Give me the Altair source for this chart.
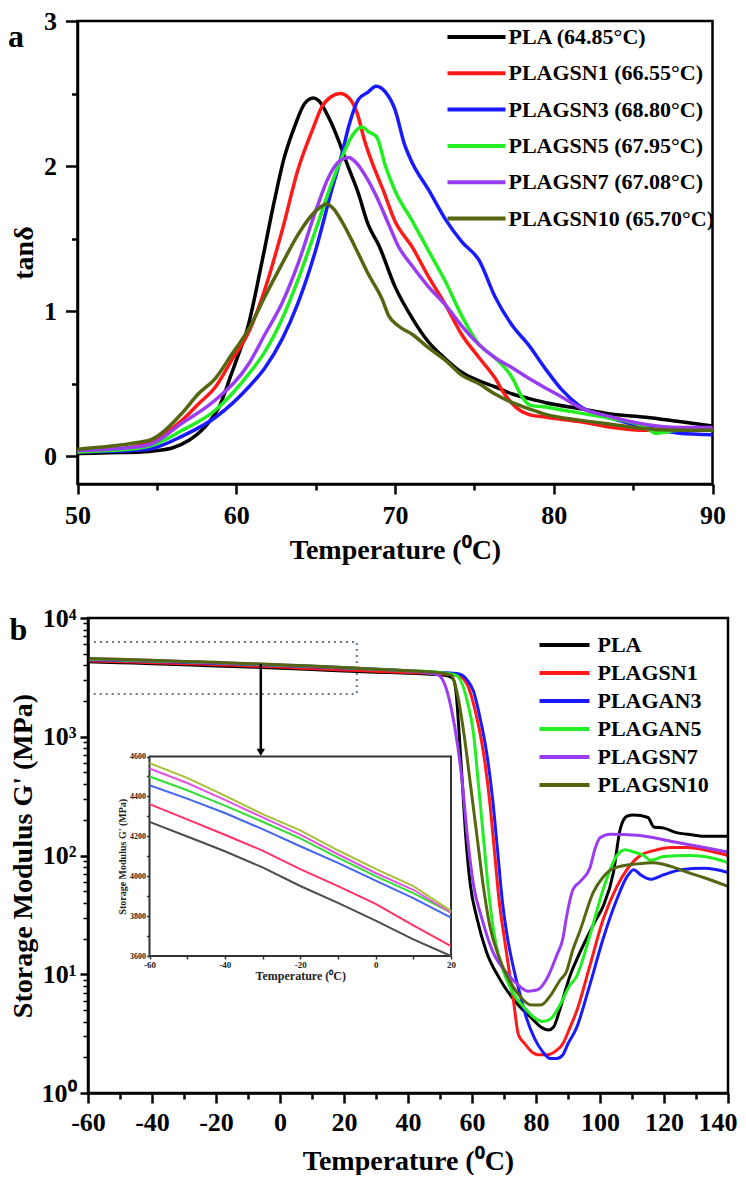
import altair as alt
import pandas as pd

FONT = "Liberation Serif"

# ---------------- Panel (a): tan delta ----------------
names_a = ["PLA (64.85°C)", "PLAGSN1 (66.55°C)", "PLAGSN3 (68.80°C)",
           "PLAGSN5 (67.95°C)", "PLAGSN7 (67.08°C)", "PLAGSN10 (65.70°C)"]
colors_main = ["#000000", "#ff1a1a", "#1a1aff", "#22ee22", "#9a3cf0", "#556611"]

pla_a_T = [50, 52, 54, 55, 56, 57, 58, 59, 59.7, 60.2, 60.7, 61.6, 62.4, 63.0, 63.7, 64.3, 64.85, 65.2,
           65.8, 66.4, 67.0, 67.7, 68.3, 69.0, 70.0, 71.1, 72.1, 73.2, 74.2, 75.3, 76.3, 77.4, 78.4, 79.5,
           81.6, 83.7, 85.8, 87.9, 90]
pla_a_v = [0.02, 0.025, 0.03, 0.04, 0.06, 0.11, 0.2, 0.36, 0.57, 0.72, 0.88, 1.33, 1.76, 2.05, 2.28, 2.43,
           2.47, 2.45, 2.34, 2.19, 2.01, 1.81, 1.6, 1.45, 1.17, 0.95, 0.79, 0.67, 0.58, 0.52, 0.48, 0.43,
           0.4, 0.37, 0.33, 0.29, 0.27, 0.24, 0.21]

gsn1_a_T = [50, 52, 54, 54.5, 56.6, 57.6, 58.7, 59.7, 60.8, 61.8, 62.9, 63.9, 64.8, 65.4, 66.0, 66.55,
            67.1, 67.6, 68.1, 68.75, 69.2, 70.0, 71.1, 72.1, 73.2, 74.2, 75.3, 76.3, 76.9, 77.6, 78.4,
            79.5, 81.6, 83.7, 85.8, 87.9, 90]
gsn1_a_v = [0.03, 0.045, 0.08, 0.1, 0.25, 0.36, 0.48, 0.66, 0.86, 1.15, 1.56, 1.98, 2.25, 2.41, 2.48, 2.5,
            2.47, 2.37, 2.17, 1.97, 1.85, 1.62, 1.44, 1.24, 1.04, 0.84, 0.68, 0.54, 0.43, 0.34, 0.29,
            0.27, 0.24, 0.2, 0.18, 0.18, 0.19]

gsn3_a_T = [50, 52, 54, 54.5, 56.6, 58.7, 60.8, 61.8, 62.9, 63.9, 65.0, 66.0, 66.65, 67.1, 67.7, 68.3,
            68.8, 69.4, 70.0, 70.6, 71.1, 72.1, 73.2, 74.2, 75.3, 76.3, 77.4, 78.4, 79.5, 80.5, 81.6,
            83.7, 85.8, 87.9, 90]
gsn3_a_v = [0.03, 0.035, 0.045, 0.05, 0.14, 0.27, 0.48, 0.61, 0.81, 1.06, 1.42, 1.83, 2.08, 2.28, 2.46,
            2.51, 2.55, 2.51, 2.39, 2.15, 2.02, 1.84, 1.63, 1.48, 1.35, 1.1, 0.9, 0.77, 0.6, 0.46, 0.35,
            0.26, 0.2, 0.16, 0.15]

gsn5_a_T = [50, 52, 54, 54.5, 56.6, 58.7, 60.8, 61.8, 62.9, 63.9, 65.0, 66.0, 66.65, 67.3, 67.95, 68.3,
            68.85, 69.4, 70.0, 71.1, 72.1, 73.2, 74.2, 75.3, 76.3, 77.4, 78.0, 78.6, 79.5, 80.5, 81.6,
            83.7, 85.8, 86.4, 87.9, 90]
gsn5_a_v = [0.03, 0.04, 0.06, 0.07, 0.18, 0.32, 0.57, 0.72, 0.95, 1.22, 1.56, 1.88, 2.06, 2.21, 2.27,
            2.24, 2.2, 2.0, 1.83, 1.62, 1.42, 1.2, 0.97, 0.77, 0.68, 0.54, 0.41, 0.35, 0.34, 0.32, 0.3,
            0.26, 0.2, 0.16, 0.18, 0.18]

gsn7_a_T = [50, 52, 54, 54.5, 56.6, 58.7, 60.8, 61.8, 62.9, 63.9, 65.0, 65.8, 66.45, 67.08, 67.5, 68.1,
            68.75, 69.6, 70.2, 71.1, 72.1, 73.2, 74.2, 75.3, 76.3, 77.4, 78.4, 79.5, 80.5, 81.6, 83.7,
            85.8, 87.9, 90]
gsn7_a_v = [0.04, 0.05, 0.07, 0.08, 0.23, 0.39, 0.64, 0.84, 1.06, 1.33, 1.69, 1.92, 2.03, 2.06, 2.03,
            1.94, 1.81, 1.6, 1.45, 1.31, 1.17, 1.04, 0.9, 0.77, 0.68, 0.61, 0.54, 0.47, 0.41, 0.34, 0.27,
            0.22, 0.2, 0.2]

gsn10_a_T = [50, 52, 54, 54.5, 56.6, 57.6, 58.7, 59.7, 60.8, 61.8, 62.9, 63.9, 65.0, 65.7, 66.1, 66.65,
             67.5, 68.3, 69.2, 69.6, 70.2, 71.1, 72.1, 73.2, 74.2, 75.3, 76.3, 77.4, 78.4, 79.5, 81.6,
             83.7, 85.8, 87.9, 90]
gsn10_a_v = [0.05, 0.07, 0.1, 0.11, 0.3, 0.43, 0.54, 0.7, 0.88, 1.1, 1.33, 1.53, 1.69, 1.74, 1.71, 1.62,
             1.44, 1.26, 1.08, 0.97, 0.9, 0.84, 0.75, 0.66, 0.56, 0.5, 0.43, 0.37, 0.33, 0.29, 0.25,
             0.22, 0.19, 0.18, 0.18]

# ---------------- Panel (b): storage modulus ----------------
names_b = ["PLA", "PLAGSN1", "PLAGAN3", "PLAGAN5", "PLAGSN7", "PLAGSN10"]
colors_inset = ["#4d4d4d", "#ff3366", "#4466ee", "#33dd33", "#e055e0", "#a8c038"]

inset_T = [-60, -50, -40, -30, -20, -10, 0, 10, 20]
pla_low = [4272, 4199, 4125, 4044, 3951, 3866, 3777, 3683, 3580]
gsn1_low = [4361, 4285, 4208, 4128, 4035, 3950, 3861, 3754, 3650]
gan3_low = [4456, 4389, 4317, 4236, 4150, 4067, 3978, 3890, 3792]
gan5_low = [4500, 4431, 4354, 4273, 4190, 4093, 4000, 3915, 3817]
gsn7_low = [4540, 4467, 4383, 4295, 4208, 4110, 4016, 3932, 3817]
gsn10_low = [4567, 4493, 4404, 4311, 4230, 4130, 4037, 3950, 3826]

pla_hi_T = [30, 40, 48, 52, 54, 55, 56, 57, 58, 59.5, 61.5, 64.5, 68.5, 73.5, 78.5, 81.5, 84, 85.5, 87.4,
            89, 90.5, 93, 95.8, 98.5, 101.1, 104.2, 106.3, 108.4, 110.5, 115, 116.8, 120, 124.2, 127.4,
            132.6, 140]
pla_hi_G = [3500, 3420, 3350, 3280, 3100, 2400, 1050, 400, 150, 56, 30, 15.5, 9.3, 5.9, 4.3, 3.6, 3.4,
            3.6, 5.0, 7.0, 9.5, 13.8, 20, 28, 38, 72, 166, 214, 219, 209, 174, 170, 155, 151, 145, 145]

gsn1_hi_T = [30, 40, 50, 55.5, 58.5, 61.5, 63.5, 65.5, 67, 68.5, 70, 71.5, 73, 74.5, 76.5, 78.5, 80.5,
             83.5, 86.5, 88.4, 90.5, 92.6, 96.8, 101, 105.3, 108.4, 112.6, 116.8, 122.1, 127.4, 132.6, 140]
gsn1_hi_G = [3560, 3480, 3400, 3300, 2750, 1450, 760, 290, 110, 41, 21, 11.2, 5.9, 3.1, 2.6, 2.24, 2.1,
             2.1, 2.3, 2.6, 3.5, 4.8, 11.7, 29, 55, 76, 100, 110, 117, 117, 112, 100]

gan3_hi_T = [30, 40, 50, 56, 58.5, 60.5, 62.5, 64.5, 66.5, 68, 69.5, 71, 73, 75, 77, 79.5, 82, 84.5, 86.5,
             88.4, 90, 92.6, 96.8, 101, 105.3, 108.4, 110.5, 112.6, 115.8, 120, 125.3, 132.6, 140]
gan3_hi_G = [3700, 3600, 3480, 3380, 3000, 2400, 1450, 760, 290, 110, 41, 21, 11.2, 6.8, 4.3, 2.9, 2.24,
             1.95, 1.95, 2.1, 2.6, 3.5, 8.1, 20, 43, 66, 76, 69, 63, 69, 76, 78, 72]

gan5_hi_T = [30, 40, 50, 55, 58.5, 60.5, 62, 63.5, 65, 67, 69.5, 72.5, 76.5, 79.5, 82, 84.5, 87.5, 90.5,
             92.6, 96.8, 101, 105.3, 107.9, 110.5, 113.7, 115.8, 120, 127.4, 132.6, 140]
gan5_hi_G = [3710, 3600, 3470, 3300, 2000, 1050, 400, 150, 56, 21, 11.2, 7.2, 5.2, 4.3, 4.0, 4.2, 5.5, 8.0,
             9.5, 21, 52, 100, 112, 107, 100, 91, 98, 100, 98, 87]

gsn7_hi_T = [30, 40, 46, 49.5, 51.5, 53.5, 55.5, 57, 58.5, 60.5, 63, 66.5, 70.5, 74.5, 77.5, 80.5, 83.5,
             86.5, 88.4, 89.5, 91.6, 93.7, 96.8, 98.5, 100, 103.2, 111.6, 122.1, 132.6, 140]
gsn7_hi_G = [3700, 3580, 3450, 3300, 2750, 1740, 850, 400, 150, 56, 30, 15.5, 10.5, 8.1, 7.2, 7.4, 9.3,
             14.5, 20, 30, 52, 60, 78, 115, 141, 151, 148, 132, 117, 107]

gsn10_hi_T = [30, 40, 50, 53.5, 55.5, 57.5, 59.5, 61.5, 63.5, 65.5, 68.5, 72.5, 75.5, 78.5, 81.5, 84.5,
              87.5, 89.5, 91.5, 93.7, 97.9, 101, 104.2, 111.6, 116.8, 122.1, 127.4, 132.6, 140]
gsn10_hi_G = [3710, 3590, 3450, 3300, 2240, 1050, 400, 150, 56, 26, 13.8, 8.1, 6.3, 5.5, 5.5, 6.6, 8.9,
              10.5, 16, 23, 49, 66, 78, 85, 87, 81, 72, 65, 55]

# zoom box and arrow (data coordinates of panel b)
box_x = [-60, 24]
box_y = [2290, 6290]
arrow_x = [-6]
arrow_y = [4100, 737]


def long_df(names, Ts, Vs):
    rows = []
    for n, ts, vs in zip(names, Ts, Vs):
        for t, v in zip(ts, vs):
            rows.append({"name": n, "T": t, "v": v})
    return pd.DataFrame(rows)


df_a = long_df(names_a,
               [pla_a_T, gsn1_a_T, gsn3_a_T, gsn5_a_T, gsn7_a_T, gsn10_a_T],
               [pla_a_v, gsn1_a_v, gsn3_a_v, gsn5_a_v, gsn7_a_v, gsn10_a_v])

lows = [pla_low, gsn1_low, gan3_low, gan5_low, gsn7_low, gsn10_low]
hiTs = [pla_hi_T, gsn1_hi_T, gan3_hi_T, gan5_hi_T, gsn7_hi_T, gsn10_hi_T]
hiGs = [pla_hi_G, gsn1_hi_G, gan3_hi_G, gan5_hi_G, gsn7_hi_G, gsn10_hi_G]
df_b = long_df(names_b, [inset_T + t for t in hiTs], [l + g for l, g in zip(lows, hiGs)])
df_i = long_df(names_b, [inset_T] * 6, lows)

lab = dict(labelFont=FONT, labelFontWeight="bold", labelColor="black",
           titleFont=FONT, titleFontWeight="bold", titleColor="black",
           tickColor="black", domainColor="black", grid=False, labelFlush=False)

# ---------------- build panel a ----------------
# panel a's plot area sits 10.5 px left of panel b's, so its x range starts left of the group origin
SHIFT_A = 10.5
W_A, H_A = 635, 463
xa_scale = alt.Scale(domain=[50, 90], range=[-SHIFT_A, W_A - SHIFT_A], nice=False, zero=False)
ya_scale = alt.Scale(domain=[-0.19, 3.0], nice=False, zero=False)

frame_a = alt.Chart(pd.DataFrame({"x1": [50], "x2": [90], "y1": [-0.19], "y2": [3.0]})).mark_rect(
    fill=None, stroke="black", strokeWidth=2.5).encode(
    x=alt.X("x1:Q", scale=xa_scale, axis=None), x2="x2:Q",
    y=alt.Y("y1:Q", scale=ya_scale, axis=None), y2="y2:Q")

lines_a = alt.Chart(df_a).mark_line(strokeWidth=3.5, interpolate="monotone").encode(
    x=alt.X("T:Q", scale=xa_scale,
            axis=alt.Axis(orient="bottom", values=[50, 60, 70, 80, 90], tickSize=10, tickWidth=2.5,
                          domainWidth=2.5, labelFontSize=26, labelPadding=8,
                          title="Temperature (⁰C)", titleFontSize=28, titlePadding=8, **lab)),
    y=alt.Y("v:Q", scale=ya_scale,
            axis=alt.Axis(orient="left", offset=SHIFT_A, values=[0, 1, 2, 3], tickSize=12, tickWidth=2.5,
                          domainWidth=2.5, labelFontSize=26, labelPadding=9,
                          title="tanδ", titleFontSize=28, titlePadding=5, **lab)),
    color=alt.Color("name:N", scale=alt.Scale(domain=names_a, range=colors_main),
                    legend=alt.Legend(orient="none", legendX=357.5, legendY=4, title=None,
                                      symbolType="stroke", symbolSize=3364, symbolStrokeWidth=4,
                                      labelFont=FONT, labelFontSize=22, labelFontWeight="bold",
                                      labelColor="black", labelLimit=400, clipHeight=24,
                                      rowPadding=12.3, labelOffset=1, padding=0)),
)

minor_a = alt.Chart(df_a).mark_point(opacity=0).encode(
    x=alt.X("T:Q", scale=xa_scale,
            axis=alt.Axis(orient="bottom", values=[55, 65, 75, 85], labels=False, tickSize=6,
                          tickWidth=2.5, domain=False, title=None, tickColor="black", grid=False)),
    y=alt.Y("v:Q", scale=ya_scale,
            axis=alt.Axis(orient="left", offset=SHIFT_A, values=[0.5, 1.5, 2.5], labels=False, tickSize=6,
                          tickWidth=2.5, domain=False, title=None, tickColor="black", grid=False)),
)

label_a = alt.Chart(pd.DataFrame({"t": ["a"]})).mark_text(
    font=FONT, fontSize=32, fontWeight="bold", color="black").encode(
    text="t:N", x=alt.value(-72), y=alt.value(16))

top = alt.layer(frame_a, lines_a, minor_a, label_a).resolve_axis(
    x="independent", y="independent").properties(width=W_A - SHIFT_A, height=H_A)

# ---------------- build panel b ----------------
W_B, H_B = 640, 475
xb_scale = alt.Scale(domain=[-60, 140], nice=False, zero=False)
yb_scale = alt.Scale(type="log", domain=[1, 10000], nice=False)
xi_scale = alt.Scale(domain=[-60, 20], range=[61.5, 363], nice=False, zero=False)
yi_scale = alt.Scale(domain=[3600, 4600], range=[338, 138.5], nice=False, zero=False, clamp=True)

frame_b = alt.Chart(pd.DataFrame({"x1": [-60], "x2": [140], "y1": [1], "y2": [10000]})).mark_rect(
    fill=None, stroke="black", strokeWidth=2.5).encode(
    x=alt.X("x1:Q", scale=xb_scale, axis=None), x2="x2:Q",
    y=alt.Y("y1:Q", scale=yb_scale, axis=None), y2="y2:Q")

box = alt.Chart(pd.DataFrame({"x1": [box_x[0]], "x2": [box_x[1]], "y1": [box_y[0]], "y2": [box_y[1]]})).mark_rect(
    fill=None, stroke="#6a7a88", strokeWidth=2, strokeDash=[2, 4]).encode(
    x=alt.X("x1:Q", scale=xb_scale, axis=None), x2="x2:Q",
    y=alt.Y("y1:Q", scale=yb_scale, axis=None), y2="y2:Q")

lines_b = alt.Chart(df_b).mark_line(strokeWidth=3, interpolate="monotone").encode(
    x=alt.X("T:Q", scale=xb_scale,
            axis=alt.Axis(orient="bottom", values=list(range(-60, 141, 20)), labelExpr="'' + datum.value",
                          labelAlign={"condition": {"test": "datum.value == 140", "value": "right"}, "value": "center"},
                          labelOffset={"condition": {"test": "datum.value == 140", "value": 9}, "value": 0},
                          tickSize=10, tickWidth=2.5, domainWidth=2.5, labelFontSize=26, labelPadding=6,
                          title="Temperature (⁰C)", titleFontSize=28, titlePadding=12, **lab)),
    y=alt.Y("v:Q", scale=yb_scale,
            axis=alt.Axis(orient="left", values=[1, 10, 100, 1000, 10000],
                          labelExpr="'10' + ['⁰','¹','²','³','⁴'][round(log(datum.value)/LN10)]",
                          tickSize=8, tickWidth=2.5, domainWidth=2.5, labelFontSize=26, labelPadding=4,
                          title="Storage Modulus  G' (MPa)", titleFontSize=28, titlePadding=4, **lab)),
    color=alt.Color("name:N", scale=alt.Scale(domain=names_b, range=colors_main),
                    legend=alt.Legend(orient="none", legendX=449.5, legendY=15, title=None,
                                      symbolType="stroke", symbolSize=2500, symbolStrokeWidth=4,
                                      labelFont=FONT, labelFontSize=22, labelFontWeight="bold",
                                      labelColor="black", labelLimit=400, clipHeight=24,
                                      rowPadding=4, labelOffset=6, padding=0)),
)

minor_log = [m * d for d in [1, 10, 100, 1000] for m in range(2, 10)]
minor_b = alt.Chart(df_b).mark_point(opacity=0).encode(
    x=alt.X("T:Q", scale=xb_scale,
            axis=alt.Axis(orient="bottom", values=list(range(-50, 140, 20)), labels=False, tickSize=6,
                          tickWidth=2.5, domain=False, title=None, tickColor="black", grid=False)),
    y=alt.Y("v:Q", scale=yb_scale,
            axis=alt.Axis(orient="left", values=minor_log, labels=False, tickSize=5,
                          tickWidth=1.5, domain=False, title=None, tickColor="black", grid=False)),
)

arrow_df = pd.DataFrame({"ax": arrow_x, "ay": [arrow_y[0]], "ay2": [arrow_y[1]]})
arrow = alt.Chart(arrow_df).mark_rule(color="black", strokeWidth=2.5).encode(
    x=alt.X("ax:Q", scale=xb_scale, axis=None),
    y=alt.Y("ay:Q", scale=yb_scale, axis=None), y2="ay2:Q")
arrow_head = alt.Chart(arrow_df).mark_point(shape="triangle-down", filled=True, size=70,
                                            color="black", opacity=1).encode(
    x=alt.X("ax:Q", scale=xb_scale, axis=None),
    y=alt.Y("ay2:Q", scale=yb_scale, axis=None))

frame_df = pd.DataFrame({"x1": [inset_T[0]], "x2": [inset_T[-1]], "y1": [3600], "y2": [4600]})
inset_frame = alt.Chart(frame_df).mark_rect(fill="white", stroke="#333333", strokeWidth=2).encode(
    x=alt.X("x1:Q", scale=xi_scale, axis=None), x2="x2:Q",
    y=alt.Y("y1:Q", scale=yi_scale, axis=None), y2="y2:Q")

ilab = dict(labelFont=FONT, labelFontWeight="bold", labelColor="#222222",
            titleFont=FONT, titleFontWeight="bold", titleColor="#222222",
            tickColor="#333333", grid=False, domain=False, labelFlush=False)
inset_lines = alt.Chart(df_i).mark_line(strokeWidth=2).encode(
    x=alt.X("T:Q", scale=xi_scale,
            axis=alt.Axis(orient="bottom", offset=-137, values=list(range(-60, 21, 10)),
                          labelExpr="datum.value % 20 == 0 ? '' + datum.value : ''",
                          labelFontSize=9, tickSize=3, tickWidth=1.5, labelPadding=1,
                          title="Temperature (⁰C)", titleFontSize=12, titlePadding=1, **ilab)),
    y=alt.Y("v:Q", scale=yi_scale,
            axis=alt.Axis(orient="left", offset=-61.5, values=list(range(3600, 4601, 100)),
                          labelExpr="datum.value % 200 == 0 ? '' + datum.value : ''",
                          labelFontSize=8, tickSize=3, tickWidth=1.5, labelPadding=1,
                          title="Storage Modulus G' (MPa)", titleFontSize=10, titlePadding=2, **ilab)),
    color=alt.Color("name:N", scale=alt.Scale(domain=names_b, range=colors_inset), legend=None),
)

label_b = alt.Chart(pd.DataFrame({"t": ["b"]})).mark_text(
    font=FONT, fontSize=32, fontWeight="bold", color="black").encode(
    text="t:N", x=alt.value(-69.5), y=alt.value(12))

bottom = alt.layer(box, lines_b, minor_b, arrow, arrow_head, inset_frame, inset_lines, frame_b, label_b).resolve_scale(
    x="independent", y="independent", color="independent").properties(width=W_B, height=H_B)

chart = alt.ConcatChart(concat=[top, bottom], columns=1, spacing=41, align="none").properties(
    padding={"left": 0, "top": 0, "right": 0, "bottom": 0}
).configure_view(stroke=None)

chart.save("out.html", embed_options={"renderer": "svg", "actions": False})
